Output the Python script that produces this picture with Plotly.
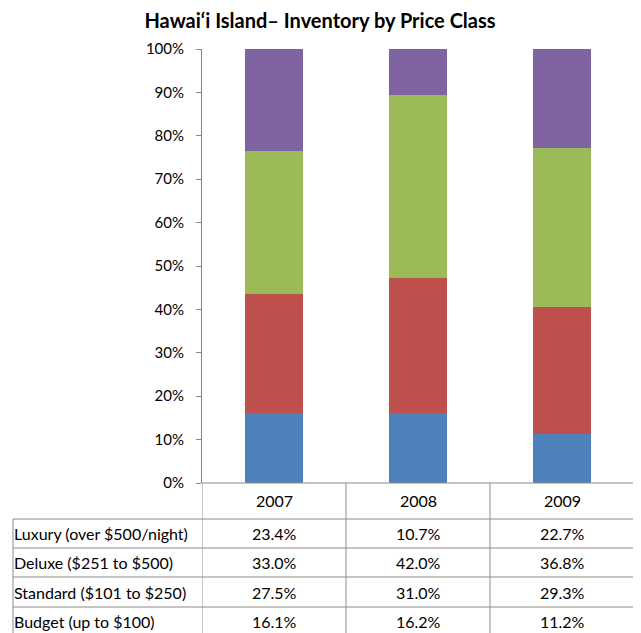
import plotly.graph_objects as go

years = ["2007", "2008", "2009"]
series_names = ["Budget (up to $100)", "Standard ($101 to $250)", "Deluxe ($251 to $500)", "Luxury (over $500/night)"]
budget = [16.1, 16.2, 11.2]
standard = [27.5, 31.0, 29.3]
deluxe = [33.0, 42.0, 36.8]
luxury = [23.4, 10.7, 22.7]
colors = ["#4F81BD", "#C0504D", "#9BBB59", "#8064A2"]
y_ticks = [0, 0.1, 0.2, 0.3, 0.4, 0.5, 0.6, 0.7, 0.8, 0.9, 1.0]

series_values = [budget, standard, deluxe, luxury]

# page body has an 8px margin; lay out in page pixels minus that offset
OFF = 8
W, H = 641 - OFF, 633 - OFF
PL, PR, PT, PB = 202, 634, 49, 483   # plot area in page pixels
ML, MR, MT, MB = PL - OFF, W - (PR - OFF), PT - OFF, H - (PB - OFF)
PW = W - ML - MR
PH = H - MT - MB
FONT = "Lato, 'Open Sans', sans-serif"
LINE = "#8c8c8c"


def py(p):
    return (PB - p) / PH


def px(p):
    return (p - PL) / PW


fig = go.Figure()
tot = [b + s + d + l for b, s, d, l in zip(*series_values)]
for name, vals, c in zip(series_names, series_values, colors):
    fig.add_trace(go.Bar(
        x=list(range(len(years))), y=[v / t for v, t in zip(vals, tot)], name=name,
        marker=dict(color=c, line=dict(width=0)), width=0.4,
        hoverinfo="name+y",
    ))

shapes = []
annotations = []

row_tops = [483, 519, 548, 577, 607, 636]
for i, r in enumerate(row_tops):
    x0 = px(202) if i == 0 else px(13)
    shapes.append(dict(type="line", xref="paper", yref="paper", x0=x0, x1=1, y0=py(r), y1=py(r),
                       line=dict(color=LINE, width=1), layer="above"))
for b in [-0.5, 0.5, 1.5, 2.5]:
    shapes.append(dict(type="line", xref="x", yref="paper", x0=b, x1=b, y0=py(483), y1=py(640),
                       line=dict(color=LINE, width=1), layer="above"))
shapes.append(dict(type="line", xref="paper", yref="paper", x0=px(13), x1=px(13), y0=py(519), y1=py(640),
                   line=dict(color=LINE, width=1), layer="above"))

TFS = 16
for i, yr in enumerate(years):
    annotations.append(dict(xref="x", yref="paper", x=i, y=py(501), text=yr, showarrow=False,
                            font=dict(size=TFS, color="#000", family=FONT), xanchor="center", yanchor="middle"))

row_order = [3, 2, 1, 0]
for k, si in enumerate(row_order):
    cy = (row_tops[k + 1] + row_tops[k + 2]) / 2
    annotations.append(dict(xref="paper", yref="paper", x=px(12), y=py(cy), text=series_names[si],
                            showarrow=False, xanchor="left", yanchor="middle",
                            font=dict(size=TFS, color="#000", family=FONT)))
    for i, v in enumerate(series_values[si]):
        annotations.append(dict(xref="x", yref="paper", x=i, y=py(cy), text=f"{v:.1f}%",
                                showarrow=False, xanchor="center", yanchor="middle",
                                font=dict(size=TFS, color="#000", family=FONT)))

fig.update_layout(
    width=W, height=H,
    margin=dict(l=ML, r=MR, t=MT, b=MB),
    barmode="stack",
    showlegend=False,
    plot_bgcolor="white", paper_bgcolor="white",
    title=dict(text="<b>Hawai‘i Island– Inventory by Price Class</b>", x=(320 - OFF) / W, xanchor="center",
               y=1 - (21 - OFF) / H, yanchor="middle", font=dict(size=20, color="#000", family=FONT)),
    xaxis=dict(range=[-0.5, 2.5], showticklabels=False, showgrid=False, zeroline=False,
               showline=False, ticks=""),
    yaxis=dict(range=[0, 1], tickvals=y_ticks, tickformat=".0%", showgrid=False, zeroline=False,
               showline=True, linecolor="#868686", linewidth=1, ticks="outside", ticklen=5,
               tickcolor="#868686", tickfont=dict(size=15, color="#000", family=FONT), ticklabelstandoff=9),
    shapes=shapes,
    annotations=annotations,
)

fig.write_html("out.html")
